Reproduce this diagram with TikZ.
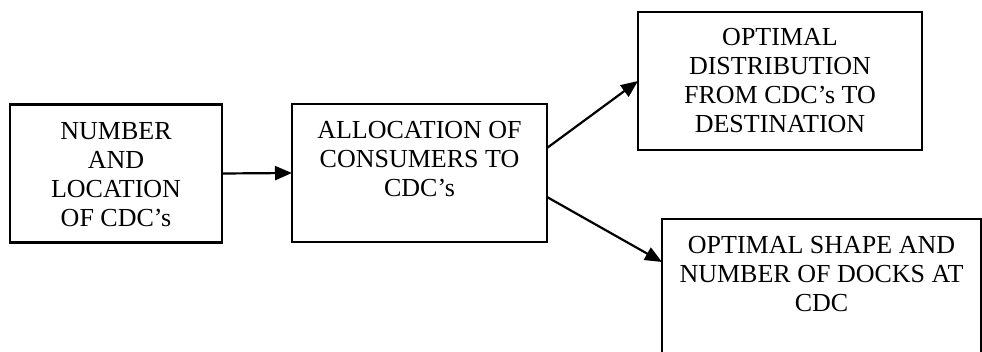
\documentclass[tikz,border=0pt]{standalone}
\usepackage{fontspec}
\setmainfont{Liberation Serif}
\usetikzlibrary{arrows.meta}

\tikzset{
  box/.style={draw=black, line width=2.2pt, rectangle, inner sep=0pt, outer sep=0pt},
  txt/.style={align=center, inner sep=0pt, font=\fontsize{26pt}{29pt}\selectfont},
  arr/.style={draw=black, line width=2.2pt, -{Triangle[length=17pt,width=14pt]}}
}

\begin{document}
\begin{tikzpicture}[x=1pt, y=-1pt]
  \useasboundingbox (0,0) rectangle (982,352);
  \clip (0,0) rectangle (982,352);

  % the four boxes (the last one runs past the lower edge)
  \node[box, minimum width=212pt, minimum height=138pt] (b1) at (116,173.5) {};
  \node[box, minimum width=255pt, minimum height=138pt] (b2) at (419.5,173) {};
  \node[box, minimum width=284pt, minimum height=138pt] (b3) at (780,81) {};
  \node[box, minimum width=319pt, minimum height=160pt] (b4) at (821.5,299) {};

  % box texts, hung from the top edge of each box
  \node[txt, anchor=north] (t1) at ([yshift=-18pt]b1.north) {NUMBER\\AND\\LOCATION\\OF CDC’s};
  \node[txt, anchor=north] (t2) at ([yshift=-17pt]b2.north) {ALLOCATION OF\\CONSUMERS TO\\CDC’s};
  \node[txt, anchor=north] (t3) at ([yshift=-16pt]b3.north) {OPTIMAL\\DISTRIBUTION\\FROM CDC’s TO\\DESTINATION};
  \node[txt, anchor=north] (t4) at ([yshift=-17pt]b4.north) {OPTIMAL SHAPE AND\\NUMBER OF DOCKS AT\\CDC};

  % connectors
  \draw[arr] (b1.east) -- (b2.west);
  \draw[arr] ([yshift=25pt]b2.east) -- (b3.west);
  \draw[arr] ([yshift=-24pt]b2.east) -- ([yshift=-43pt]b4.north west);
\end{tikzpicture}
\end{document}
